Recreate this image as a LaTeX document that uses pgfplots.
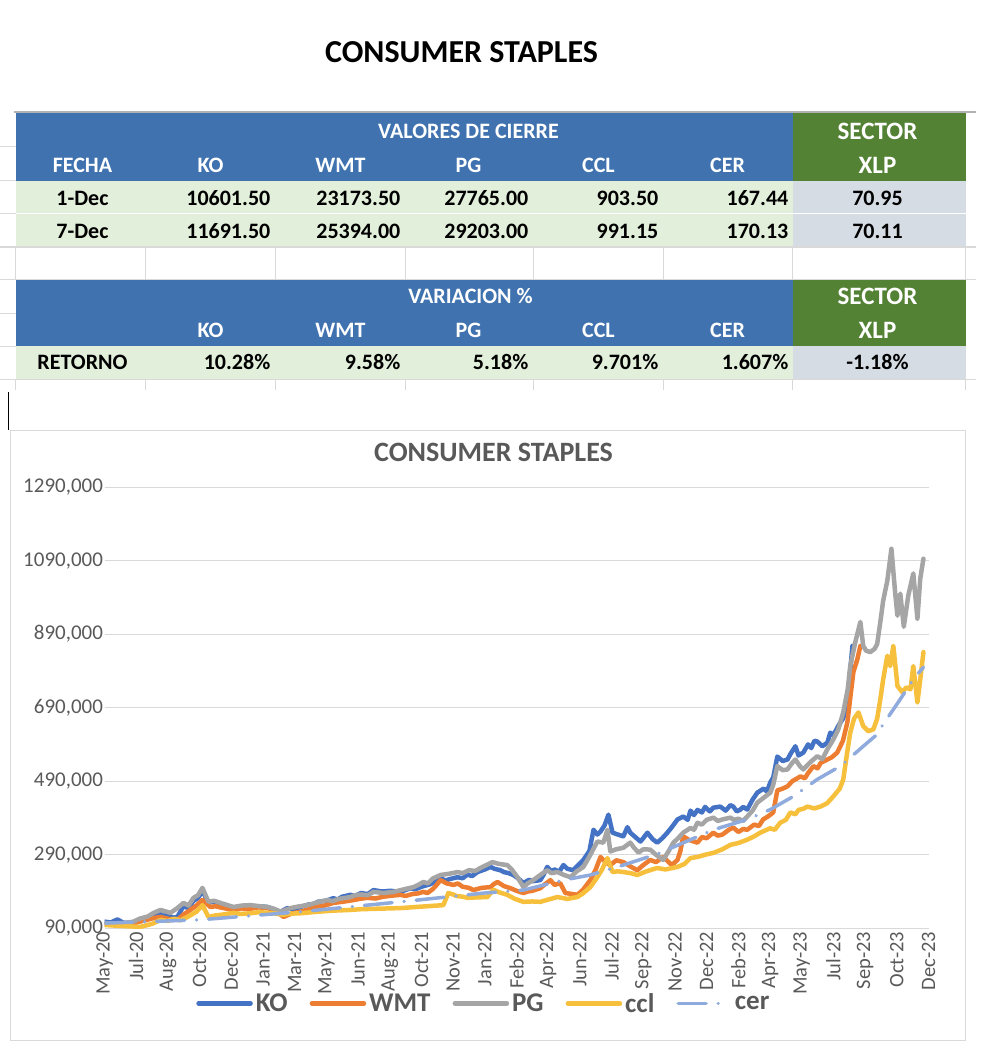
\documentclass[border=0pt]{standalone}
\usepackage{pgfplots}
\pgfplotsset{compat=1.18}
\usepackage{fontspec}
\setmainfont{Carlito}
\definecolor{hdrblue}{HTML}{3F72AF}
\definecolor{hdrgreen}{HTML}{548235}
\definecolor{rowgreen}{HTML}{E2EFDA}
\definecolor{rowgray}{HTML}{D6DCE4}
\definecolor{txtgray}{HTML}{595959}
\definecolor{gridc}{HTML}{D9D9D9}
\definecolor{ko}{HTML}{4472C4}
\definecolor{wmt}{HTML}{ED7D31}
\definecolor{pg}{HTML}{A5A5A5}
\definecolor{cclc}{HTML}{F7C03C}
\definecolor{cerc}{HTML}{8FAADC}
\newcommand{\fs}[1]{\fontsize{#1}{#1}\selectfont}
\begin{document}
\begin{tikzpicture}
\begin{scope}[x=1pt,y=-1pt]
\path (0,0) rectangle (980,1059);
\node[font=\bfseries\fs{32}] at (461,52) {CONSUMER STAPLES};
% table
\draw[gray!60, line width=1.5pt] (13,112) -- (975,112);
\fill[hdrblue] (15,113) rectangle (792,181);
\fill[hdrgreen] (792,113) rectangle (965,181);
\fill[rowgreen] (15,181) rectangle (792,247);
\fill[rowgray] (792,181) rectangle (965,247);
\fill[hdrblue] (15,279) rectangle (792,346);
\fill[hdrgreen] (792,279) rectangle (965,346);
\fill[rowgreen] (15,346) rectangle (792,379);
\fill[rowgray] (792,346) rectangle (965,379);
\draw[white, line width=1pt] (15,214) -- (965,214);
\foreach \x in {15,145,275,405,533,663,792,965} {
  \draw[gridc, line width=1pt] (\x,247) -- (\x,279);
  \draw[gridc, line width=1pt] (\x,379) -- (\x,390);
}
\draw[gridc, line width=1pt] (0,247) -- (975,247);
\draw[gridc, line width=1pt] (0,279) -- (975,279);
\draw[gridc, line width=1pt] (0,379) -- (975,379);
\foreach \y in {147,181,214,313,346} \draw[gridc, line width=1pt] (0,\y) -- (15,\y);
\begin{scope}[every node/.style={font=\bfseries\fs{22}, inner sep=0pt}]
\node[white] at (468,131) {VALORES DE CIERRE};
\node[white] at (82,165) {FECHA};
\node[white] at (210,165) {KO};
\node[white] at (340,165) {WMT};
\node[white] at (468,165) {PG};
\node[white] at (598,165) {CCL};
\node[white] at (727,165) {CER};
\node[white, font=\bfseries\fs{25}] at (877,131) {SECTOR};
\node[white, font=\bfseries\fs{25}] at (877,165) {XLP};
\node at (82,198) {1-Dec};
\node[anchor=east] at (270,198) {10601.50};
\node[anchor=east] at (400,198) {23173.50};
\node[anchor=east] at (528,198) {27765.00};
\node[anchor=east] at (658,198) {903.50};
\node[anchor=east] at (788,198) {167.44};
\node at (877,198) {70.95};
\node at (82,231) {7-Dec};
\node[anchor=east] at (270,231) {11691.50};
\node[anchor=east] at (400,231) {25394.00};
\node[anchor=east] at (528,231) {29203.00};
\node[anchor=east] at (658,231) {991.15};
\node[anchor=east] at (788,231) {170.13};
\node at (877,231) {70.11};
\node[white] at (470,296) {VARIACION \%};
\node[white] at (210,330) {KO};
\node[white] at (340,330) {WMT};
\node[white] at (468,330) {PG};
\node[white] at (598,330) {CCL};
\node[white] at (727,330) {CER};
\node[white, font=\bfseries\fs{25}] at (877,296) {SECTOR};
\node[white, font=\bfseries\fs{25}] at (877,330) {XLP};
\node at (82,362) {RETORNO};
\node[anchor=east] at (270,362) {10.28\%};
\node[anchor=east] at (400,362) {9.58\%};
\node[anchor=east] at (528,362) {5.18\%};
\node[anchor=east] at (658,362) {9.701\%};
\node[anchor=east] at (788,362) {1.607\%};
\node at (877,362) {-1.18\%};
\end{scope}
\draw[black, line width=1.5pt] (8,392) -- (8,430);
% chart frame and title
\draw[gridc, line width=1pt] (10,430) rectangle (965,1040);
\node[font=\bfseries\fs{28}, text=txtgray] at (493,452) {CONSUMER STAPLES};
\end{scope}
\begin{axis}[
  at={(104pt,-928.3pt)}, anchor=south west,
  scale only axis, width=824pt, height=441.3pt,
  xmin=0, xmax=26, ymin=90000, ymax=1290000,
  axis line style={draw=none}, major tick length=0pt,
  ymajorgrids, grid style={color=gridc, line width=1pt},
  ytick={90000,290000,490000,690000,890000,1090000,1290000},
  yticklabels={{90,000},{290,000},{490,000},{690,000},{890,000},{1090,000},{1290,000}},
  xtick={0,...,26},
  xticklabels={May-20,Jul-20,Aug-20,Oct-20,Dec-20,Jan-21,Mar-21,May-21,Jun-21,Aug-21,Oct-21,Nov-21,Jan-22,Feb-22,Apr-22,Jun-22,Jul-22,Sep-22,Nov-22,Dec-22,Feb-23,Apr-23,May-23,Jul-23,Sep-23,Oct-23,Dec-23},
  tick label style={text=txtgray},
  yticklabel style={font=\fs{21}, xshift=2pt},
  /pgf/number format/assume math mode=true,
  xticklabel style={rotate=90, anchor=east, font=\fs{20.5}},
  scaled y ticks=false,
  every axis plot/.append style={line join=round, line cap=round, line width=4.5pt},
  legend columns=5,
  legend image code/.code={\draw[#1] (0pt,0pt) -- (52pt,0pt);},
  legend style={at={(0.461,-0.17)}, anchor=center, draw=none, fill=none,
    font=\bfseries\fs{27}, text=txtgray, nodes={inner xsep=3pt, inner ysep=0pt},
    /tikz/every even column/.append style={column sep=19pt}},
]
\addplot[ko] coordinates {
(0,108000)(0.2,106000)(0.41,114000)(0.6,105000)(0.91,104000)(1.1,109000)(1.23,113000)(1.45,120000)(1.67,132000)(1.85,124000)(1.99,127000)(2.15,119000)(2.30,121000)(2.49,150000)(2.65,145000)(2.81,165000)(2.95,172000)(3.09,192000)(3.28,160000)(3.45,162000)(3.66,155000)(3.85,152000)(4.07,146000)(4.35,149000)(4.61,145000)(4.9,150000)(5.14,148000)(5.35,142000)(5.55,135000)(5.77,145000)(5.95,141000)(6.18,148000)(6.45,155000)(6.6,152000)(6.72,162000)(7.0,165000)(7.22,172000)(7.35,168000)(7.5,176000)(7.76,181000)(7.9,178000)(8.1,186000)(8.3,183000)(8.49,194000)(8.75,190000)(9.02,192000)(9.34,189000)(9.65,199000)(9.8,196000)(10.0,203000)(10.28,210000)(10.45,218000)(10.60,227000)(10.75,220000)(10.9,224000)(11.14,229000)(11.3,226000)(11.45,236000)(11.6,232000)(11.77,243000)(12.0,250000)(12.18,257000)(12.3,252000)(12.49,248000)(12.6,243000)(12.75,240000)(12.9,235000)(13.03,227000)(13.22,213000)(13.4,222000)(13.5,218000)(13.75,221000)(13.85,235000)(13.97,257000)(14.1,245000)(14.2,250000)(14.35,244000)(14.48,262000)(14.6,252000)(14.79,248000)(14.95,262000)(15.11,276000)(15.3,300000)(15.43,358000)(15.55,345000)(15.65,353000)(15.78,370000)(15.90,399000)(16.03,350000)(16.2,345000)(16.37,340000)(16.5,365000)(16.59,350000)(16.75,338000)(16.91,326000)(17.0,335000)(17.13,350000)(17.3,332000)(17.44,323000)(17.6,335000)(17.76,350000)(17.9,365000)(18.08,386000)(18.26,394000)(18.4,385000)(18.49,410000)(18.6,398000)(18.71,412000)(18.85,405000)(18.95,420000)(19.1,408000)(19.21,418000)(19.43,421000)(19.6,410000)(19.75,425000)(19.84,421000)(19.95,408000)(20.05,412000)(20.15,420000)(20.28,413000)(20.45,440000)(20.60,459000)(20.8,470000)(20.9,462000)(21.01,487000)(21.1,500000)(21.23,557000)(21.4,545000)(21.55,549000)(21.65,565000)(21.80,585000)(21.9,560000)(22.05,568000)(22.2,590000)(22.3,580000)(22.4,600000)(22.49,598000)(22.65,585000)(22.81,595000)(22.90,622000)(23.0,615000)(23.15,640000)(23.3,660000)(23.44,694000)(23.52,780000)(23.60,858000)
};
\addlegendentry{KO}
\addplot[wmt] coordinates {
(0,101000)(0.5,100000)(0.91,104000)(1.1,108000)(1.3,112000)(1.55,118000)(1.77,121000)(2.0,116000)(2.30,113000)(2.5,128000)(2.71,140000)(2.9,152000)(3.09,167000)(3.34,148000)(3.5,150000)(3.7,146000)(4.07,140000)(4.3,144000)(4.6,143000)(4.85,147000)(5.14,145000)(5.4,138000)(5.65,121000)(5.9,130000)(6.18,135000)(6.45,142000)(6.7,148000)(6.95,152000)(7.22,159000)(7.5,162000)(7.8,166000)(8.05,170000)(8.30,173000)(8.55,171000)(8.8,176000)(9.1,179000)(9.34,181000)(9.5,178000)(9.7,183000)(9.9,185000)(10.06,189000)(10.19,186000)(10.35,196000)(10.45,205000)(10.60,221000)(10.8,212000)(11.01,208000)(11.15,212000)(11.3,203000)(11.5,200000)(11.64,194000)(11.9,200000)(12.18,202000)(12.28,210000)(12.40,216000)(12.6,205000)(12.81,199000)(13.0,192000)(13.22,186000)(13.35,190000)(13.5,192000)(13.75,199000)(13.9,210000)(14.07,221000)(14.2,208000)(14.38,213000)(14.54,186000)(14.7,184000)(14.92,181000)(15.1,195000)(15.33,221000)(15.5,250000)(15.65,284000)(15.8,270000)(15.96,262000)(16.15,275000)(16.37,270000)(16.6,258000)(16.81,248000)(17.0,262000)(17.22,276000)(17.4,270000)(17.63,284000)(17.9,262000)(18.08,276000)(18.17,300000)(18.26,340000)(18.45,330000)(18.71,323000)(18.85,338000)(19.0,335000)(19.21,350000)(19.35,342000)(19.5,345000)(19.7,358000)(19.84,364000)(20.0,352000)(20.15,360000)(20.28,358000)(20.5,372000)(20.65,368000)(20.78,386000)(20.95,395000)(21.10,405000)(21.23,465000)(21.4,470000)(21.55,476000)(21.7,490000)(21.96,503000)(22.1,498000)(22.2,512000)(22.37,531000)(22.5,525000)(22.6,540000)(22.81,549000)(22.95,555000)(23.12,568000)(23.3,600000)(23.44,650000)(23.55,730000)(23.63,787000)(23.75,820000)(23.85,858000)
};
\addlegendentry{WMT}
\addplot[pg] coordinates {
(0,104000)(0.5,103000)(0.91,108000)(1.1,116000)(1.36,122000)(1.55,132000)(1.77,140000)(2.08,132000)(2.3,145000)(2.49,159000)(2.65,152000)(2.81,173000)(2.95,180000)(3.09,200000)(3.28,162000)(3.45,165000)(3.66,159000)(3.85,154000)(4.07,148000)(4.35,152000)(4.61,153000)(4.9,150000)(5.14,148000)(5.35,143000)(5.55,135000)(5.87,145000)(6.1,149000)(6.40,153000)(6.7,160000)(7.03,167000)(7.2,164000)(7.4,170000)(7.76,175000)(7.9,180000)(8.1,182000)(8.3,180000)(8.49,189000)(8.8,186000)(9.12,189000)(9.4,195000)(9.75,202000)(9.9,208000)(10.06,216000)(10.2,212000)(10.35,225000)(10.60,235000)(10.85,238000)(11.14,243000)(11.3,240000)(11.5,248000)(11.7,246000)(11.86,254000)(12.05,262000)(12.24,270000)(12.45,265000)(12.71,262000)(12.85,250000)(13.03,229000)(13.22,202000)(13.35,212000)(13.53,221000)(13.75,235000)(13.97,248000)(14.1,240000)(14.29,243000)(14.5,235000)(14.70,229000)(14.9,245000)(15.11,257000)(15.3,285000)(15.55,326000)(15.74,323000)(15.87,358000)(15.96,299000)(16.15,305000)(16.37,309000)(16.59,323000)(16.7,310000)(16.85,296000)(17.0,305000)(17.22,304000)(17.4,290000)(17.63,276000)(17.8,300000)(17.95,323000)(18.1,335000)(18.26,350000)(18.49,363000)(18.6,358000)(18.71,377000)(18.85,372000)(19.0,385000)(19.21,391000)(19.35,382000)(19.5,386000)(19.75,391000)(19.85,385000)(20.0,388000)(20.15,382000)(20.28,394000)(20.45,410000)(20.60,432000)(20.8,445000)(21.01,459000)(21.1,480000)(21.23,531000)(21.4,520000)(21.55,522000)(21.7,540000)(21.80,549000)(21.95,530000)(22.05,522000)(22.25,540000)(22.49,558000)(22.65,550000)(22.81,577000)(23.00,604000)(23.15,630000)(23.31,677000)(23.45,740000)(23.53,803000)(23.69,868000)(23.85,923000)(23.94,858000)(24.03,845000)(24.16,841000)(24.30,850000)(24.38,863000)(24.48,923000)(24.57,981000)(24.70,1035000)(24.83,1122000)(24.95,1000000)(25.02,940000)(25.11,1000000)(25.22,910000)(25.36,994000)(25.52,1055000)(25.65,932000)(25.74,1041000)(25.84,1095000)
};
\addlegendentry{PG}
\addplot[cclc] coordinates {
(0,99000)(0.6,96000)(1.14,94000)(1.5,102000)(1.77,113000)(2.0,110000)(2.2,116000)(2.4,112000)(2.62,121000)(2.9,135000)(3.09,153000)(3.28,121000)(3.5,125000)(3.7,127000)(4.07,132000)(4.3,129000)(4.6,131000)(4.9,134000)(5.14,132000)(5.4,130000)(5.65,127000)(5.9,130000)(6.2,131000)(6.45,133000)(6.72,135000)(7.2,138000)(7.76,140000)(8.1,142000)(8.5,143000)(9.34,145000)(10.0,149000)(10.69,153000)(10.85,186000)(11.0,182000)(11.1,178000)(11.3,176000)(11.45,173000)(11.75,174000)(12.08,175000)(12.27,195000)(12.45,188000)(12.71,181000)(12.95,170000)(13.22,162000)(13.5,163000)(13.75,162000)(14.0,168000)(14.29,175000)(14.6,170000)(14.92,175000)(15.1,185000)(15.33,202000)(15.55,229000)(15.7,250000)(15.87,281000)(16.03,243000)(16.2,245000)(16.37,243000)(16.6,240000)(16.81,235000)(17.1,245000)(17.44,254000)(17.7,250000)(18.08,257000)(18.3,265000)(18.49,281000)(18.71,284000)(18.95,290000)(19.21,295000)(19.5,305000)(19.75,317000)(20.0,322000)(20.28,331000)(20.5,340000)(20.69,350000)(21.0,362000)(21.15,358000)(21.32,377000)(21.5,385000)(21.64,405000)(21.8,400000)(21.9,412000)(22.05,415000)(22.18,421000)(22.4,416000)(22.59,421000)(22.8,430000)(23.00,449000)(23.2,470000)(23.31,495000)(23.42,560000)(23.53,622000)(23.65,660000)(23.79,677000)(23.94,640000)(24.10,626000)(24.26,631000)(24.38,660000)(24.48,713000)(24.57,767000)(24.70,831000)(24.79,803000)(24.89,858000)(25.02,749000)(25.17,732000)(25.30,745000)(25.43,740000)(25.52,803000)(25.65,704000)(25.74,767000)(25.84,841000)
};
\addlegendentry{ccl}
\addplot[cerc, line width=3.5pt, dash pattern=on 28pt off 12pt on 0.1pt off 12pt] coordinates {
(0,104000)(3.0,113000)(6.18,135000)(9.34,162000)(12.0,186000)(13.22,194000)(14.48,221000)(15.33,235000)(16.37,262000)(17.44,292000)(18.49,331000)(19.21,358000)(20.28,386000)(21.01,413000)(21.74,449000)(22.49,495000)(23.22,531000)(23.94,585000)(24.32,613000)(25.11,713000)(25.52,767000)(25.84,800000)
};
\addlegendentry{cer}
\end{axis}
\end{tikzpicture}
\end{document}
